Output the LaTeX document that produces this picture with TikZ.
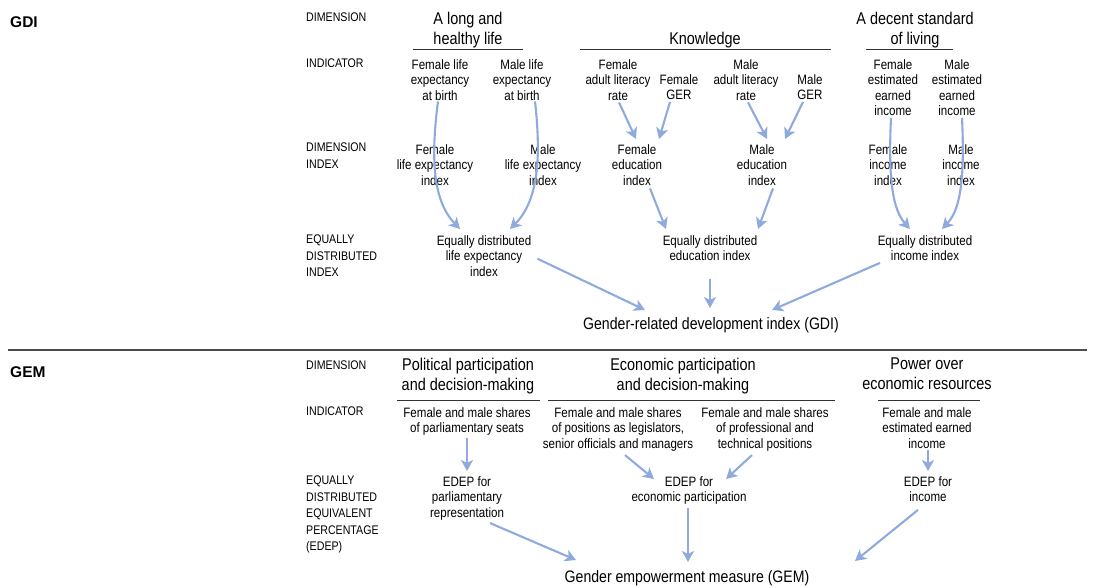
\documentclass[tikz,border=0pt]{standalone}
\usepackage{fontspec}
\setmainfont{Liberation Sans}[FakeStretch=0.85]
\newfontfamily\headfont{Liberation Sans}
\usetikzlibrary{calc}
\usetikzlibrary{arrows.meta}
\definecolor{flowblue}{RGB}{143,170,220}

\begin{document}
\begin{tikzpicture}[x=1pt,y=-1pt] %% GDI / GEM scheme
	\tikzstyle{sect}=[font=\headfont\bfseries\fontsize{15.5}{18}\selectfont, inner sep=0pt, anchor=north west]
	\tikzstyle{lbl}=[font=\fontsize{12.5}{16.5}\selectfont, align=left, inner sep=0pt, anchor=north west]
	\tikzstyle{hdr}=[font=\fontsize{17}{20}\selectfont, align=center, inner sep=0pt, anchor=north]
	\tikzstyle{txt}=[font=\fontsize{13.6}{15.5}\selectfont, align=center, inner sep=0pt, anchor=north]
	\tikzstyle{ttl}=[font=\fontsize{16.6}{19}\selectfont, inner sep=0pt, anchor=north]
	\tikzstyle{rule}=[line width=1pt, black!80]
	\tikzstyle{flow}=[-{Stealth[length=11pt,width=12pt,inset=3pt]}, line width=2.1pt, flowblue]
	\useasboundingbox (0,0) rectangle (1115,588);

	% GDI
	\node[sect] (gdiLab) at (10,16) {GDI};
	\node[lbl] (dimA) at (306,13) {DIMENSION};
	\node[lbl] (indA) at (306,59) {INDICATOR};
	\node[lbl] (diA) at (306,143) {DIMENSION\\INDEX};
	\node[lbl] (edA) at (306,235) {EQUALLY\\DISTRIBUTED\\INDEX};

	\node[hdr] (hLife) at (468,12) {A long and\\healthy life};
	\node[hdr] (hKnow) at (705,32) {Knowledge};
	\node[hdr] (hLiving) at (915,12) {A decent standard\\of living};
	\draw[rule] (413,50) -- (523,50);
	\draw[rule] (580,50) -- (831,50);
	\draw[rule] (866,50) -- (953,50);

	\node[txt] (iFLife) at (440,59) {Female life\\expectancy\\at birth};
	\node[txt] (iMLife) at (522,59) {Male life\\expectancy\\at birth};
	\node[txt] (iFLit) at (618,59) {Female\\adult literacy\\rate};
	\node[txt] (iFGer) at (679,74) {Female\\GER};
	\node[txt] (iMLit) at (746,59) {Male\\adult literacy\\rate};
	\node[txt] (iMGer) at (810,74) {Male\\GER};
	\node[txt] (iFInc) at (893,59) {Female\\estimated\\earned\\income};
	\node[txt] (iMInc) at (957,59) {Male\\estimated\\earned\\income};

	\node[txt] (dFLife) at (435,144) {Female\\life expectancy\\index};
	\node[txt] (dMLife) at (543,144) {Male\\life expectancy\\index};
	\node[txt] (dFEdu) at (637,144) {Female\\education\\index};
	\node[txt] (dMEdu) at (762,144) {Male\\education\\index};
	\node[txt] (dFInc) at (888,144) {Female\\income\\index};
	\node[txt] (dMInc) at (961,144) {Male\\income\\index};

	\node[txt] (eLife) at (484,235) {Equally distributed\\life expectancy\\index};
	\node[txt] (eEdu) at (710,235) {Equally distributed\\education index};
	\node[txt] (eInc) at (925,235) {Equally distributed\\income index};

	\node[ttl] (gdi) at (711,317) {Gender-related development index (GDI)};

	\draw[flow] ($(iFLife.south)+(-2,1)$) .. controls ($(iFLife.south)+(-9,55)$) and ($(eLife.north)+(-52,-35)$) .. ($(eLife.north)+(-24,-6)$);
	\draw[flow] ($(iMLife.south)+(13,1)$) .. controls ($(iMLife.south)+(19,55)$) and ($(eLife.north)+(55,-35)$) .. ($(eLife.north)+(26,-6)$);
	\draw[flow] ($(iFLit.south)+(1,2)$) -- ($(dFEdu.north)+(-1,-5)$);
	\draw[flow] ($(iFGer.south)+(-9,2)$) -- ($(dFEdu.north)+(22,-5)$);
	\draw[flow] ($(iMLit.south)+(2,2)$) -- ($(dMEdu.north)+(5,-5)$);
	\draw[flow] ($(iMGer.south)+(-7,2)$) -- ($(dMEdu.north)+(23,-5)$);
	\draw[flow] ($(iFInc.south)+(-2,2)$) .. controls ($(iFInc.south)+(-5,65)$) and ($(eInc.north)+(-32,-25)$) .. ($(eInc.north)+(-15,-6)$);
	\draw[flow] ($(iMInc.south)+(5,2)$) .. controls ($(iMInc.south)+(8,65)$) and ($(eInc.north)+(35,-25)$) .. ($(eInc.north)+(17,-6)$);
	\draw[flow] ($(dFEdu.south)+(13,3)$) -- ($(eEdu.north)+(-44,-6)$);
	\draw[flow] ($(dMEdu.south)+(11,3)$) -- ($(eEdu.north)+(48,-6)$);
	\draw[flow] ($(eLife.east)+(6,3)$) -- ($(gdi.north)+(-66,-7)$);
	\draw[flow] ($(eEdu.south)+(0,18)$) -- ($(gdi.north)+(-1,-9)$);
	\draw[flow] ($(eInc.south)+(-45,2)$) -- ($(gdi.north)+(61,-7)$);

	\draw[line width=1.2pt, black!70] (8,350) -- (1087,350);

	% GEM
	\node[sect] (gemLab) at (10,366) {GEM};
	\node[lbl] (dimB) at (306,361) {DIMENSION};
	\node[lbl] (indB) at (306,407) {INDICATOR};
	\node[lbl] (edB) at (306,476) {EQUALLY\\DISTRIBUTED\\EQUIVALENT\\PERCENTAGE\\(EDEP)};

	\node[hdr] (hPol) at (468,358) {Political participation\\and decision-making};
	\node[hdr] (hEcon) at (683,358) {Economic participation\\and decision-making};
	\node[hdr] (hPower) at (927,358) {Power over\\economic resources};
	\draw[rule] (397,400) -- (540,400);
	\draw[rule] (548,400) -- (835,400);
	\draw[rule] (878,400) -- (980,400);

	\node[txt] (iParl) at (467,407) {Female and male shares\\of parliamentary seats};
	\node[txt] (iLeg) at (618,407) {Female and male shares\\of positions as legislators,\\senior officials and managers};
	\node[txt] (iProf) at (765,407) {Female and male shares\\of professional and\\technical positions};
	\node[txt] (iInc) at (927,407) {Female and male\\estimated earned\\income};

	\node[txt] (eParl) at (467,476) {EDEP for\\parliamentary\\representation};
	\node[txt] (eEcon) at (689,476) {EDEP for\\economic participation};
	\node[txt] (eInc2) at (928,476) {EDEP for\\income};

	\node[ttl] (gem) at (687,570) {Gender empowerment measure (GEM)};

	\draw[flow] ($(iParl.south)+(0,2)$) -- ($(eParl.north)+(0,-5)$);
	\draw[flow] ($(iLeg.south)+(7,4)$) -- ($(eEcon.north)+(-35,3)$);
	\draw[flow] ($(iProf.south)+(-13,4)$) -- ($(eEcon.north)+(37,3)$);
	\draw[flow] ($(iInc.south)+(1,2)$) -- ($(eInc2.north)+(0,-5)$);
	\draw[flow] ($(eParl.south)+(23,3)$) -- ($(gem.north)+(-111,-10)$);
	\draw[flow] ($(eEcon.south)+(-1,3)$) -- ($(gem.north)+(1,-8)$);
	\draw[flow] ($(eInc2.south)+(-10,8)$) -- ($(gem.north)+(168,-9)$);
\end{tikzpicture}
\end{document}
